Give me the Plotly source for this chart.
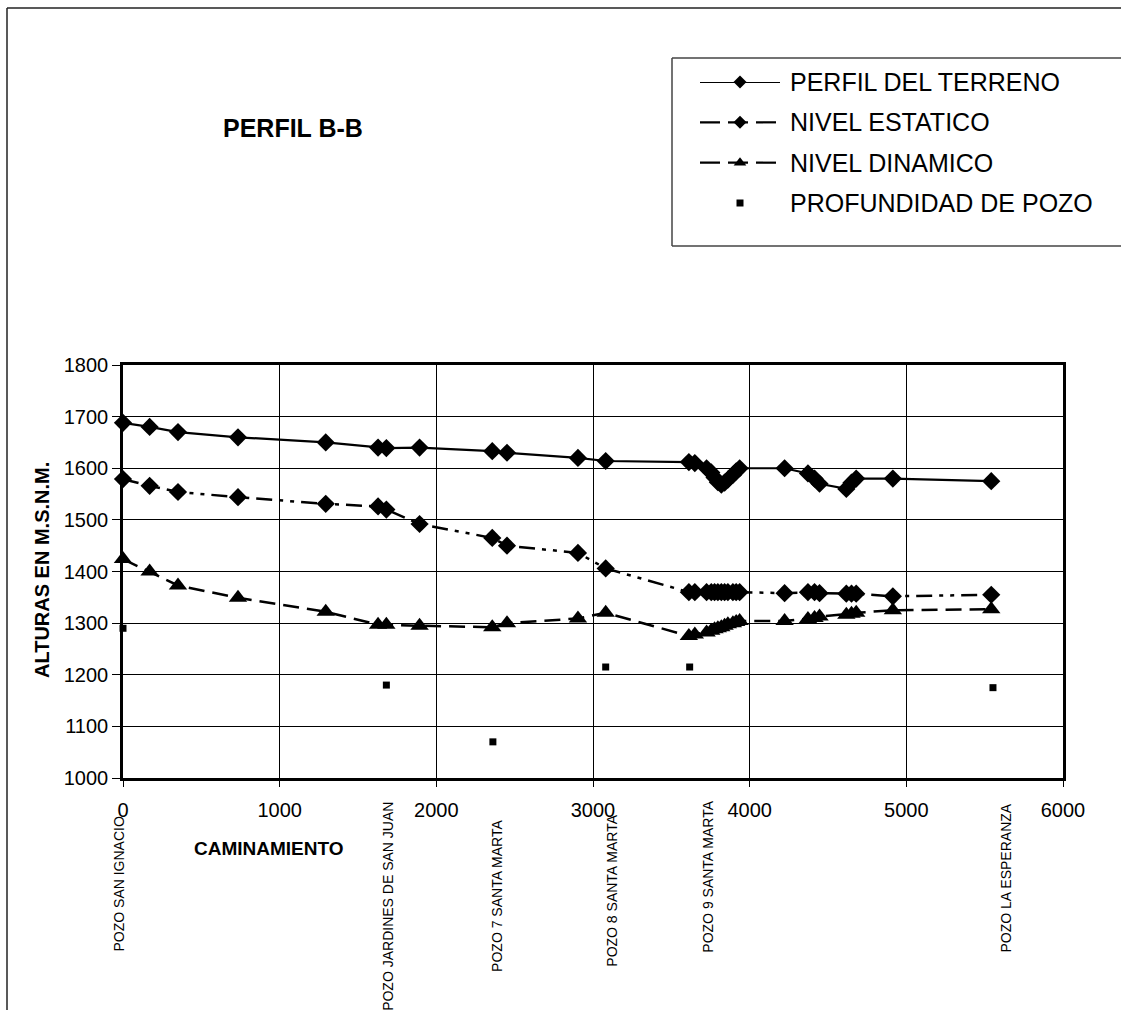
import plotly.graph_objects as go

# Distance along the section (m) shared by the three profiles
caminamiento = [0, 170, 351, 734, 1294, 1628, 1681, 1893, 2357, 2451, 2904, 3081,
                3612, 3650, 3725, 3755, 3776, 3797, 3819, 3840, 3861, 3893, 3914, 3936,
                4223, 4372, 4414, 4446, 4617, 4650, 4680, 4914, 5542]

perfil_terreno = [1688, 1680, 1670, 1660, 1650, 1640, 1639, 1640, 1633, 1630, 1620, 1614,
                  1612, 1610, 1600, 1592, 1582, 1573, 1568, 1572, 1578, 1587, 1594, 1600,
                  1600, 1590, 1580, 1570, 1560, 1572, 1580, 1580, 1575]

nivel_estatico = [1579, 1566, 1554, 1544, 1531, 1526, 1520, 1492, 1465, 1450, 1436, 1406,
                  1360, 1360, 1360, 1360, 1360, 1360, 1360, 1360, 1360, 1360, 1360, 1360,
                  1358, 1360, 1360, 1358, 1357, 1357, 1357, 1352, 1355]

nivel_dinamico = [1424, 1400, 1373, 1349, 1322, 1297, 1297, 1295, 1292, 1300, 1309, 1320,
                  1275, 1278, 1282, 1285, 1288, 1290, 1292, 1295, 1298, 1300, 1302, 1304,
                  1304, 1308, 1310, 1313, 1316, 1318, 1320, 1325, 1327]

# Wells: position, bottom elevation and name
pozo_x = [0, 1681, 2361, 3081, 3617, 5553]
pozo_profundidad = [1290, 1180, 1070, 1215, 1215, 1175]
pozo_nombre = ["POZO SAN IGNACIO", "POZO JARDINES DE SAN JUAN", "POZO 7 SANTA MARTA",
               "POZO 8 SANTA MARTA", "POZO 9 SANTA MARTA", "POZO LA ESPERANZA"]
pozo_label_dx = [-5, 1, 4, 6, 18, 13]
pozo_label_top = [815, 800, 818, 813, 799, 801]

series_names = ["PERFIL DEL TERRENO", "NIVEL ESTATICO", "NIVEL DINAMICO", "PROFUNDIDAD DE POZO"]

x_ticks = [0, 1000, 2000, 3000, 4000, 5000, 6000]
y_ticks = [1000, 1100, 1200, 1300, 1400, 1500, 1600, 1700, 1800]

W, H = 1121, 1010
FONT = "Liberation Sans, Arial, sans-serif"

def px_x(p):
    return p / W

def px_y(p):
    return 1 - p / H

styles = [
    dict(line=dict(color="black", width=2.2), marker=dict(symbol="diamond", size=14, color="black")),
    dict(line=dict(color="black", width=2.5, dash="16px,7px,4px,7px,4px,7px"),
         marker=dict(symbol="diamond", size=14, color="black")),
    dict(line=dict(color="black", width=2.5, dash="16px,8px"),
         marker=dict(symbol="triangle-up", size=16, color="black")),
]

fig = go.Figure()

for yvals, st, name in zip([perfil_terreno, nivel_estatico, nivel_dinamico], styles, series_names):
    fig.add_trace(go.Scatter(x=caminamiento, y=yvals, mode="lines+markers", name=name,
                             line=st["line"], marker=st["marker"], cliponaxis=False,
                             showlegend=False))

fig.add_trace(go.Scatter(x=pozo_x, y=pozo_profundidad, mode="markers", name=series_names[3],
                         marker=dict(symbol="square", size=7, color="black"),
                         cliponaxis=False, showlegend=False))

# Key drawn on its own small axes: one row per series
legend_markers = [("diamond", 10), ("diamond", 10), ("triangle-up", 11), ("square", 7)]
for i, name in enumerate(series_names):
    if i < 3:
        ln = dict(styles[i]["line"])
        ln["width"] = 2.2
        if i > 0:
            ln["dash"] = "20px,8px"
        fig.add_trace(go.Scatter(x=[0, 1], y=[i, i], mode="lines", line=ln,
                                 xaxis="x2", yaxis="y2", showlegend=False,
                                 cliponaxis=False, hoverinfo="skip"))
    sym, sz = legend_markers[i]
    fig.add_trace(go.Scatter(x=[0.5], y=[i], mode="markers",
                             marker=dict(symbol=sym, size=sz, color="black"),
                             xaxis="x2", yaxis="y2", showlegend=False,
                             cliponaxis=False, hoverinfo="skip"))

annotations = []
for i, name in enumerate(series_names):
    annotations.append(dict(text=name, xref="x2", yref="y2", x=1, y=i, xshift=8,
                            xanchor="left", yanchor="middle", showarrow=False,
                            font=dict(family=FONT, size=25, color="black")))

for xv, nm, dx, top in zip(pozo_x, pozo_nombre, pozo_label_dx, pozo_label_top):
    annotations.append(dict(text=nm, xref="x", yref="paper", x=xv, y=px_y(top),
                            xshift=dx, textangle=-90, xanchor="center", yanchor="top",
                            showarrow=False, font=dict(family=FONT, size=14, color="black")))

annotations += [
    dict(text="<b>PERFIL B-B</b>", xref="paper", yref="paper", x=px_x(293), y=px_y(128),
         showarrow=False, xanchor="center", yanchor="middle",
         font=dict(family=FONT, size=25, color="black")),
    dict(text="<b>ALTURAS EN M.S.N.M.</b>", xref="paper", yref="paper", x=px_x(42),
         y=px_y(570), textangle=-90, showarrow=False, xanchor="center", yanchor="middle",
         font=dict(family=FONT, size=20, color="black")),
    dict(text="<b>CAMINAMIENTO</b>", xref="paper", yref="paper", x=px_x(269),
         y=px_y(848), showarrow=False, xanchor="center", yanchor="middle",
         font=dict(family=FONT, size=19, color="black")),
]

frame = dict(color="#222", width=1.5)
keybox = dict(color="#444", width=1.5)
shapes = [
    # outer chart frame (left and top edges; the rest lies beyond the page)
    dict(type="line", xref="paper", yref="paper", x0=px_x(7), y0=px_y(8), x1=1, y1=px_y(8),
         line=frame, layer="below"),
    dict(type="line", xref="paper", yref="paper", x0=px_x(7), y0=px_y(8), x1=px_x(7), y1=0,
         line=frame, layer="below"),
    # key box
    dict(type="line", xref="paper", yref="paper", x0=px_x(672), y0=px_y(58), x1=1,
         y1=px_y(58), line=keybox, layer="below"),
    dict(type="line", xref="paper", yref="paper", x0=px_x(672), y0=px_y(246), x1=1,
         y1=px_y(246), line=keybox, layer="below"),
    dict(type="line", xref="paper", yref="paper", x0=px_x(672), y0=px_y(58), x1=px_x(672),
         y1=px_y(246), line=keybox, layer="below"),
]

axis_font = dict(family=FONT, size=20, color="black")

fig.update_layout(
    template="none",
    width=W, height=H, autosize=False,
    margin=dict(l=0, r=0, t=0, b=0, pad=0, autoexpand=False),
    paper_bgcolor="white", plot_bgcolor="white",
    showlegend=False,
    xaxis=dict(domain=[px_x(123), px_x(1063)], range=[0, 6000], tickvals=x_ticks,
               automargin=False,
               showgrid=True, gridcolor="black", gridwidth=1, zeroline=False,
               showline=True, linecolor="black", linewidth=2.5, mirror=True,
               ticks="outside", ticklen=6, tickcolor="black", tickwidth=1,
               tickfont=axis_font, ticklabelstandoff=6),
    yaxis=dict(domain=[px_y(778), px_y(365)], range=[1000, 1800], tickvals=y_ticks,
               automargin=False,
               showgrid=True, gridcolor="black", gridwidth=1, zeroline=False,
               showline=True, linecolor="black", linewidth=2.5, mirror=True,
               ticks="outside", ticklen=8, tickcolor="black", tickwidth=1,
               tickfont=axis_font, ticklabelstandoff=0),
    xaxis2=dict(domain=[px_x(700), px_x(780)], range=[0, 1], visible=False,
                automargin=False, anchor="y2", fixedrange=True),
    yaxis2=dict(domain=[px_y(203), px_y(82)], range=[3, 0], visible=False,
                automargin=False, anchor="x2", fixedrange=True),
    annotations=annotations,
    shapes=shapes,
)

fig.write_html("out.html")
